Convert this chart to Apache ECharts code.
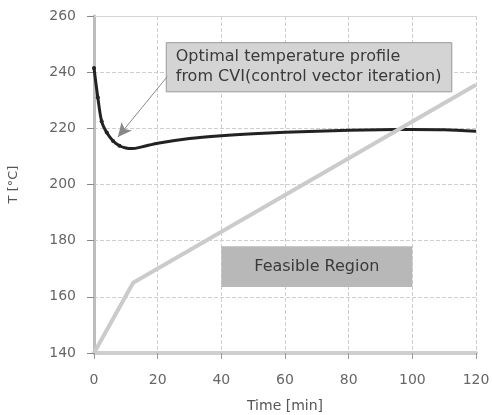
<!DOCTYPE html>
<html>
<head>
<meta charset="utf-8">
<script src="https://cdn.jsdelivr.net/npm/echarts@6.0.0/dist/echarts.min.js"></script>
<style>
  html, body { margin: 0; padding: 0; background: #fff; }
  #chart { width: 492px; height: 415px; }
</style>
</head>
<body>
<div id="chart"></div>
<script>
// optimal profile (CVI), time in min, T in degC
var cviTime = [0, 1.2, 2.4, 4, 6, 8, 10, 12, 15, 20, 30, 40, 50, 60, 70, 80, 90, 100, 110, 120];
var cviTemp = [241.5, 231, 222.5, 218.5, 215.5, 213.8, 213, 212.8, 213.4, 214.7, 216.4, 217.4, 218.1, 218.6, 219, 219.3, 219.5, 219.6, 219.5, 219];
var markedPoints = 6;

// feasible boundary
var boundTime = [0, 12.3, 120];
var boundTemp = [140, 165, 235.5];

// annotation boxes [x0, y0, x1, y1] in data units
var profileBox = [22.7, 250.5, 112.4, 233];
var profileArrow = [[23, 238.4], [7.5, 216.9]];
var feasibleBox = [40, 178, 100, 163.5];

var xTicks = { min: 0, max: 120, interval: 20 };
var yTicks = { min: 140, max: 260, interval: 20 };

function pairs(xs, ys) {
  return xs.map(function (x, i) { return [x, ys[i]]; });
}

var font = 'DejaVu Sans, Liberation Sans, sans-serif';
var chart = echarts.init(document.getElementById('chart'));

chart.setOption({
  animation: false,
  textStyle: { fontFamily: font },
  grid: { left: 94, right: 16, top: 16, bottom: 62, outerBoundsMode: 'none', containLabel: false },
  xAxis: [{
    type: 'value', min: xTicks.min, max: xTicks.max, interval: xTicks.interval,
    name: 'Time [min]', nameLocation: 'middle', nameGap: 46,
    nameTextStyle: { color: '#555', fontSize: 14, fontFamily: font },
    axisLine: { lineStyle: { color: '#cfcfcf', width: 4 } },
    axisTick: { show: true, length: 6, lineStyle: { color: '#999' } },
    axisLabel: { color: '#666', fontSize: 14, margin: 20, fontFamily: font },
    splitLine: { lineStyle: { color: '#cfcfcf', type: 'dashed' } }
  }, {
    type: 'value', position: 'top', min: xTicks.min, max: xTicks.max, interval: xTicks.interval,
    axisLine: { show: true, lineStyle: { color: '#d5d5d5', width: 1 } },
    axisTick: { show: false }, axisLabel: { show: false }, splitLine: { show: false }
  }],
  yAxis: [{
    type: 'value', min: yTicks.min, max: yTicks.max, interval: yTicks.interval,
    name: 'T [°C]', nameLocation: 'middle', nameGap: 74, nameRotate: 90,
    nameTextStyle: { color: '#555', fontSize: 13, fontFamily: font },
    axisLine: { show: true, lineStyle: { color: '#888', width: 1.5 } },
    axisTick: { show: true, length: 7, lineStyle: { color: '#888' } },
    axisLabel: { color: '#666', fontSize: 14, margin: 18, fontFamily: font },
    splitLine: { lineStyle: { color: '#cfcfcf', type: 'dashed' } }
  }, {
    type: 'value', position: 'right', min: yTicks.min, max: yTicks.max, interval: yTicks.interval,
    axisLine: { show: true, lineStyle: { color: '#bdbdbd', width: 3 } },
    axisTick: { show: false }, axisLabel: { show: false }, splitLine: { show: false }
  }],
  series: [{
    name: 'CVI',
    type: 'line',
    data: pairs(cviTime, cviTemp),
    smooth: 0.3,
    symbol: 'circle',
    symbolSize: function (v, p) { return p.dataIndex < markedPoints ? 4 : 0; },
    itemStyle: { color: '#222' },
    lineStyle: { color: '#222', width: 3 },
    z: 3,
    markArea: {
      silent: true,
      data: [
        [{
          coord: [profileBox[0], profileBox[1]],
          itemStyle: { color: '#d4d4d4', borderColor: '#999', borderWidth: 1 },
          label: {
            show: true, position: 'insideLeft', distance: 10,
            formatter: 'Optimal temperature profile\nfrom CVI(control vector iteration)',
            color: '#3a3a3a', fontSize: 16, lineHeight: 20, fontFamily: font
          }
        }, { coord: [profileBox[2], profileBox[3]] }],
        [{
          coord: [feasibleBox[0], feasibleBox[1]],
          itemStyle: { color: '#b8b8b8' },
          label: {
            show: true, position: 'inside', formatter: 'Feasible Region',
            color: '#3a3a3a', fontSize: 16, fontFamily: font
          }
        }, { coord: [feasibleBox[2], feasibleBox[3]] }]
      ]
    },
    markLine: {
      silent: true,
      symbol: ['none', 'arrow'],
      symbolSize: [10, 14],
      label: { show: false },
      lineStyle: { color: '#888', width: 1, type: 'solid' },
      data: [[{ coord: profileArrow[0] }, { coord: profileArrow[1] }]]
    }
  }, {
    name: 'Boundary',
    type: 'line',
    data: pairs(boundTime, boundTemp),
    symbol: 'none',
    lineStyle: { color: '#cbcbcb', width: 4 },
    z: 4
  }]
});
</script>
</body>
</html>
